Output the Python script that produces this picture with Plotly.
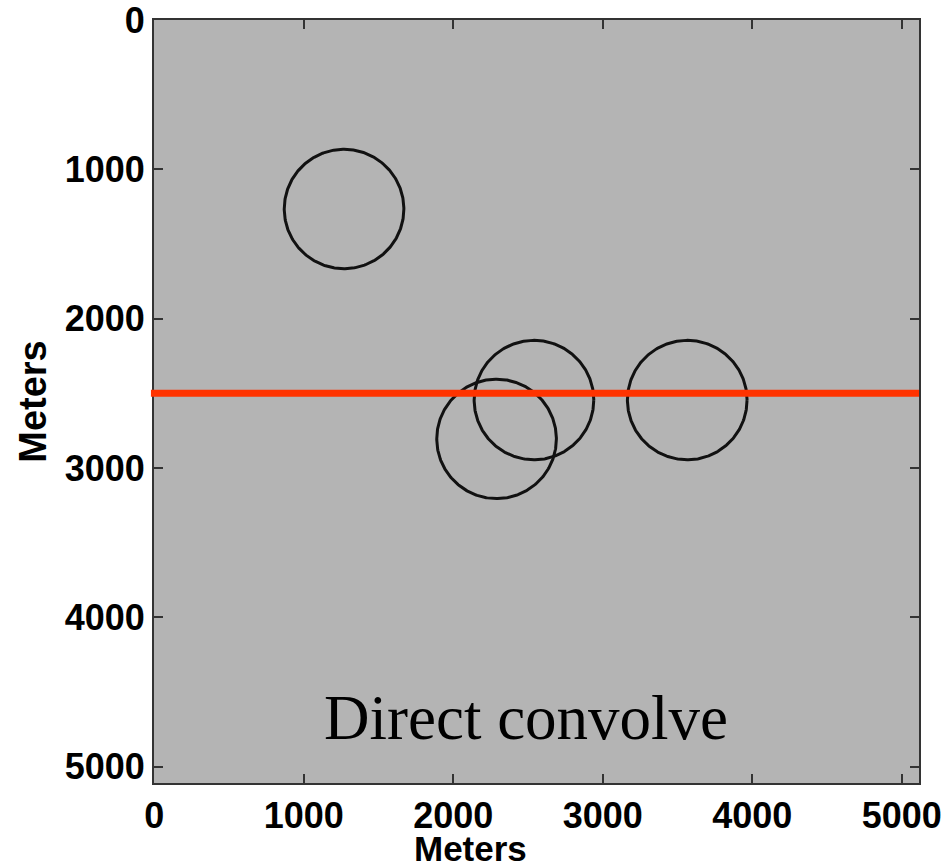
import numpy as np
import plotly.graph_objects as go

# Data
circle_x = [1270, 2540, 2290, 3565]      # circle centres, metres
circle_y = [1265, 2545, 2805, 2545]
circle_r = [400, 400, 400, 400]
line_y = 2500                              # red profile line depth
x_ticks = [0, 1000, 2000, 3000, 4000, 5000]
y_ticks = [0, 1000, 2000, 3000, 4000, 5000]
x_extent = 5115
y_extent = 5110
label_text = "Direct convolve"
label_pos = (2490, 4675)
x_title = "Meters"
y_title = "Meters"

fig = go.Figure()

theta = np.linspace(0, 2 * np.pi, 361)
for cx, cy, r in zip(circle_x, circle_y, circle_r):
    fig.add_trace(go.Scatter(
        x=cx + r * np.cos(theta), y=cy + r * np.sin(theta),
        mode="lines", line=dict(color="#111111", width=3),
        hoverinfo="skip", showlegend=False))

fig.add_shape(type="line", xref="paper", yref="y",
              x0=-0.004, x1=1.0, y0=line_y, y1=line_y,
              line=dict(color="#FF3300", width=7), layer="above")

fig.add_annotation(x=label_pos[0], y=label_pos[1], text=label_text,
                   showarrow=False, xanchor="center", yanchor="middle",
                   font=dict(family="Liberation Serif, Times New Roman, serif",
                             size=63, color="black"))

title_font = dict(family="Liberation Sans, Arial, sans-serif", size=38,
                  color="black", weight="bold")

# x-axis title (placed left of centre as in the original)
fig.add_annotation(xref="paper", yref="paper", x=0.414, y=0, yshift=-65,
                   text=x_title, showarrow=False, xanchor="center",
                   yanchor="middle",
                   font=dict(title_font, size=35))

axis_common = dict(
    showgrid=False, zeroline=False, showline=True, linecolor="#333333",
    linewidth=2, mirror="ticks", ticks="inside", ticklen=9, tickwidth=1.5,
    tickcolor="#333333", automargin=False, ticklabeloverflow="allow",
    tickfont=dict(family="Liberation Sans, Arial, sans-serif", size=36,
                  color="black", weight="bold"),
)

fig.update_xaxes(range=[-1, x_extent], tickvals=x_ticks,
                 ticktext=[str(v) for v in x_ticks], **axis_common)
fig.update_yaxes(range=[y_extent, -1], tickvals=y_ticks,
                 ticktext=[str(v) for v in y_ticks],
                 title_text=y_title, title_font=title_font,
                 title_standoff=6, **axis_common)

fig.update_layout(
    width=947, height=868,
    margin=dict(l=154, r=28, t=20, b=85),
    plot_bgcolor="#B4B4B4", paper_bgcolor="white",
    showlegend=False,
)

fig.write_html("out.html")
